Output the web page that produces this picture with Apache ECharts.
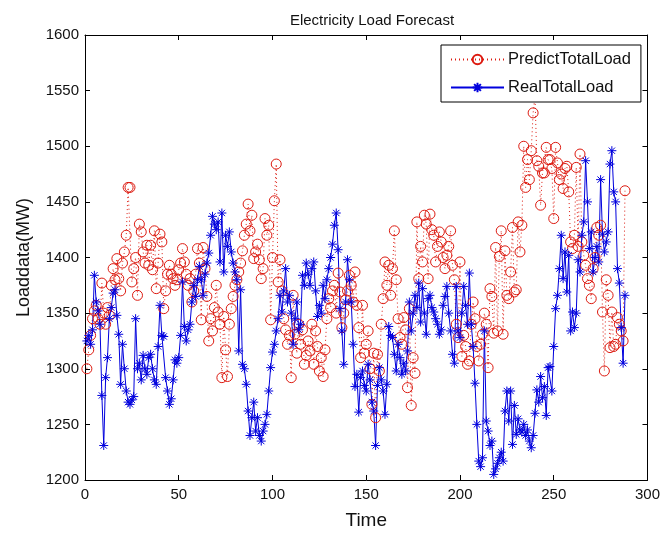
<!DOCTYPE html>
<html>
<head>
<meta charset="utf-8">
<script src="https://cdn.jsdelivr.net/npm/echarts@6/dist/echarts.min.js"></script>
<style>html,body{margin:0;padding:0;background:#fff}#c{width:663px;height:535px}</style>
</head>
<body>
<div id="c"></div>
<script>
const xTicks = [0, 50, 100, 150, 200, 250, 300];
const yTicks = [1200, 1250, 1300, 1350, 1400, 1450, 1500, 1550, 1600];
const seriesNames = ['PredictTotalLoad', 'RealTotalLoad'];

const realLoad = [
1325,1330,1322,1335,1384,1360,1352,1340,1276,1231,
1292,1310,1345,1355,1368,1371,1348,1331,1286,1322,
1300,1280,1270,1268,1272,1275,1345,1300,1305,1290,
1312,1300,1295,1310,1313,1300,1290,1286,1320,1357,
1330,1329,1292,1280,1268,1273,1290,1308,1305,1310,
1330,1378,1338,1325,1335,1340,1360,1375,1365,1380,
1392,1380,1366,1385,1395,1404,1420,1437,1430,1425,
1432,1396,1440,1387,1420,1410,1423,1405,1395,1387,
1380,1316,1371,1304,1300,1286,1262,1240,1256,1270,
1244,1256,1240,1235,1244,1250,1259,1280,1301,1315,
1322,1334,1345,1366,1351,1370,1390,1360,1366,1350,
1322,1345,1360,1335,1340,1384,1375,1395,1385,1375,
1390,1396,1370,1347,1357,1350,1375,1363,1380,1390,
1400,1412,1429,1440,1407,1354,1334,1304,1360,1398,
1380,1360,1322,1284,1295,1261,1292,1298,1285,1280,
1304,1290,1270,1262,1231,1285,1301,1290,1280,1259,
1286,1338,1330,1328,1313,1298,1322,1310,1295,1305,
1298,1316,1360,1334,1350,1366,1355,1377,1342,1372,
1350,1331,1363,1366,1355,1351,1345,1340,1331,1335,
1357,1365,1374,1350,1334,1313,1305,1374,1334,1328,
1350,1374,1357,1340,1386,1340,1320,1287,1250,1217,
1212,1220,1334,1253,1244,1231,1235,1205,1210,1215,
1220,1225,1217,1262,1280,1253,1280,1232,1267,1241,
1255,1245,1243,1250,1240,1245,1235,1229,1240,1260,
1281,1270,1293,1274,1284,1258,1301,1302,1280,1320,
1354,1366,1390,1420,1381,1405,1369,1402,1334,1351,
1337,1350,1398,1387,1420,1432,1487,1450,1408,1423,
1387,1400,1410,1396,1470,1421,1405,1414,1423,1484,
1496,1459,1450,1390,1377,1337,1305,1366
];

const predictLoad = [
1300,1317,1330,1345,1352,1357,1345,1340,1377,1350,
1340,1355,1348,1375,1390,1380,1399,1381,1370,1395,
1405,1420,1463,1463,1378,1390,1400,1366,1430,1423,
1405,1395,1411,1393,1411,1389,1424,1372,1395,1421,
1414,1354,1370,1385,1393,1385,1381,1375,1380,1389,
1395,1408,1396,1385,1375,1381,1360,1370,1385,1408,
1395,1344,1409,1390,1365,1325,1345,1334,1355,1375,
1351,1340,1292,1347,1317,1293,1340,1354,1365,1375,
1380,1387,1395,1406,1420,1430,1448,1424,1438,1399,
1405,1412,1398,1381,1390,1435,1420,1429,1344,1400,
1451,1484,1378,1398,1370,1345,1335,1322,1330,1292,
1366,1331,1314,1340,1322,1335,1304,1312,1325,1316,
1340,1304,1334,1320,1298,1310,1293,1317,1345,1363,
1355,1370,1375,1350,1386,1369,1337,1350,1362,1370,
1384,1375,1360,1387,1357,1337,1310,1357,1314,1322,
1334,1300,1268,1314,1256,1313,1298,1340,1363,1396,
1375,1393,1366,1390,1424,1380,1345,1328,1322,1346,
1335,1283,1354,1267,1310,1296,1432,1381,1410,1396,
1438,1430,1381,1439,1425,1420,1396,1410,1423,1414,
1400,1390,1402,1410,1424,1393,1380,1340,1328,1396,
1311,1330,1320,1304,1307,1340,1360,1345,1320,1307,
1322,1331,1350,1340,1301,1372,1365,1332,1409,1334,
1401,1424,1331,1406,1366,1363,1387,1427,1369,1371,
1432,1405,1429,1500,1463,1488,1470,1496,1530,1545,
1487,1482,1447,1476,1476,1499,1488,1488,1480,1435,
1499,1485,1470,1475,1462,1480,1482,1459,1414,1408,
1420,1481,1410,1493,1414,1402,1393,1381,1375,1363,
1390,1400,1427,1420,1429,1351,1298,1380,1366,1319,
1351,1320,1322,1346,1340,1334,1325,1460
];

const timeIdx = realLoad.map((_, i) => i + 1);

const chart = echarts.init(document.getElementById('c'));
const FONT = 'Liberation Sans, Arial, Helvetica, sans-serif';
const RED = '#dd1a10';
const BLUE = '#0000dd';
const star = 'path://M0,-10L0,10M-10,0L10,0M-7,-7L7,7M-7,7L7,-7';

const frameAxis = (extra) => Object.assign({
  type: 'value',
  splitLine: { show: false },
  axisLine: { show: true, onZero: false, lineStyle: { color: '#000', width: 1 } },
  axisTick: { show: true, inside: true, length: 5, lineStyle: { color: '#000' } },
}, extra);

chart.setOption({
  animation: false,
  backgroundColor: '#fff',
  textStyle: { fontFamily: FONT },
  title: {
    text: 'Electricity Load Forecast',
    left: 367, top: 8, textAlign: 'center',
    textStyle: { fontSize: 15, fontWeight: 'normal', color: '#111', fontFamily: FONT }
  },
  legend: {
    data: seriesNames,
    orient: 'vertical',
    left: 441, top: 45,
    padding: [6, 10, 6, 9],
    itemWidth: 53, itemHeight: 12, itemGap: 11,
    borderColor: '#000', borderWidth: 1,
    backgroundColor: '#fff',
    textStyle: { fontSize: 16.5, color: '#111', fontFamily: FONT, padding: [0, 0, 0, -1] }
  },
  grid: { left: 85, right: 13, top: 35, bottom: 52 },
  xAxis: [
    frameAxis({
      min: xTicks[0], max: xTicks[xTicks.length - 1], interval: 50,
      position: 'bottom',
      name: 'Time', nameLocation: 'middle', nameGap: 31,
      nameTextStyle: { fontSize: 19, color: '#111', fontFamily: FONT },
      axisLabel: { fontSize: 15, color: '#111', margin: 7, fontFamily: FONT,
        formatter: (v) => String(v) }
    }),
    frameAxis({
      min: xTicks[0], max: xTicks[xTicks.length - 1], interval: 50,
      position: 'top', axisLabel: { show: false }
    })
  ],
  yAxis: [
    frameAxis({
      min: yTicks[0], max: yTicks[yTicks.length - 1], interval: 50,
      position: 'left',
      name: 'Loaddata(MW)', nameLocation: 'middle', nameGap: 52,
      nameTextStyle: { fontSize: 18, color: '#111', fontFamily: FONT },
      axisLabel: { fontSize: 15, color: '#111', margin: 6, fontFamily: FONT,
        formatter: (v) => String(v) }
    }),
    frameAxis({
      min: yTicks[0], max: yTicks[yTicks.length - 1], interval: 50,
      position: 'right', axisLabel: { show: false }
    })
  ],
  series: [
    {
      name: seriesNames[0], type: 'line',
      data: timeIdx.map((t, i) => [t, predictLoad[i]]),
      symbol: 'circle', symbolSize: 10,
      lineStyle: { color: RED, width: 1, type: [1, 3] },
      itemStyle: { color: 'rgba(0,0,0,0)', borderColor: RED, borderWidth: 1 },
      emphasis: { disabled: true }
    },
    {
      name: seriesNames[1], type: 'line',
      data: timeIdx.map((t, i) => [t, realLoad[i]]),
      symbol: star, symbolSize: 9,
      lineStyle: { color: BLUE, width: 1 },
      itemStyle: { color: BLUE, borderColor: BLUE, borderWidth: 1 },
      emphasis: { disabled: true }
    }
  ]
});
</script>
</body>
</html>
